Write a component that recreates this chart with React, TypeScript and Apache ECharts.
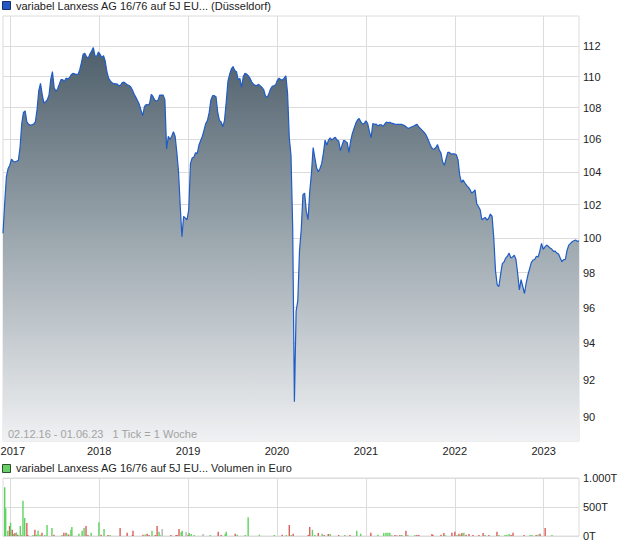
import React, { useEffect, useRef } from "react";
import * as echarts from "echarts";

// Weekly closing quotes (one tick = one week), first week 02.12.2016
const startYear = 2016;
const startMonth = 11;
const startDay = 2;
const priceValues = [
  100.3, 102.1, 103.7, 104.2, 104.4, 104.78, 104.65, 104.6, 104.65, 104.7,
  105.5, 107.0, 107.7, 107.8, 107.11, 106.95, 106.9, 106.92, 106.97, 107.1,
  107.9, 109.1, 109.56, 108.85, 108.3, 108.38, 108.5, 108.81, 109.8, 110.32,
  109.3, 109.05, 109.2, 109.5, 109.8, 109.8, 109.68, 109.9, 109.84, 109.93,
  110.12, 110.21, 110.18, 110.14, 110.14, 110.43, 110.9, 111.45, 111.52, 111.3,
  111.2, 111.47, 111.67, 111.9, 111.35, 111.33, 111.6, 111.45, 111.23, 111.37,
  111.0, 110.3, 109.89, 109.72, 109.6, 109.54, 109.53, 109.52, 109.4, 109.45,
  109.62, 109.64, 109.55, 109.47, 109.42, 109.33, 109.12, 108.86, 108.66, 108.45,
  108.2, 107.83, 107.5, 108.07, 108.2, 108.18, 108.25, 108.85, 108.72, 108.5,
  108.42, 108.5, 108.81, 108.81, 108.8, 108.5, 105.4, 106.2, 106.0, 106.2,
  106.48, 106.2, 105.2, 104.0, 101.9, 100.1, 101.3, 101.2, 101.1, 101.7,
  104.5, 104.85, 104.9, 105.17, 105.13, 105.65, 105.93, 106.2, 106.6, 107.0,
  107.2, 107.7, 108.5, 108.77, 108.77, 108.7, 107.7, 107.2, 107.1, 106.8,
  107.2, 108.4, 109.7, 110.15, 110.5, 110.65, 110.4, 110.32, 109.8, 109.88,
  109.3, 110.0, 110.21, 110.16, 110.05, 109.87, 109.65, 109.5, 109.43, 109.42,
  109.5, 109.4, 109.3, 109.15, 108.75, 108.65, 108.9, 109.2, 109.38, 109.41,
  109.48, 109.75, 109.9, 109.8, 109.78, 109.9, 110.05, 108.9, 106.1, 105.0,
  100.6, 90.82, 95.8, 96.4, 99.3, 100.5, 102.6, 102.7, 101.6, 101.1,
  102.8, 103.9, 105.5, 104.85, 104.25, 104.0, 104.2, 104.5, 105.13, 105.96,
  105.65, 105.96, 106.1, 105.96, 106.07, 106.13, 105.96, 105.9, 105.3, 105.65,
  105.95, 105.88, 105.8, 105.2, 105.9, 106.38, 106.69, 107.01, 107.22, 107.32,
  107.1, 106.96, 107.02, 107.17, 107.0, 106.5, 106.1, 107.0, 106.95, 106.96,
  106.85, 106.92, 106.92, 106.82, 106.97, 107.09, 107.05, 107.08, 107.02, 106.99,
  106.96, 106.95, 106.94, 106.94, 106.94, 106.9, 106.84, 106.75, 106.69, 106.75,
  106.8, 106.84, 106.9, 106.95, 106.78, 106.68, 106.57, 106.46, 106.32, 106.1,
  105.85, 105.58, 105.42, 105.4, 105.5, 105.68, 105.34, 105.15, 104.6, 104.4,
  104.8, 105.2, 105.2, 105.09, 105.11, 105.1, 105.05, 104.75, 103.8, 103.35,
  103.5, 103.33, 103.17, 103.06, 102.92, 102.7, 102.78, 102.9, 102.05, 101.89,
  101.7, 101.1, 101.18, 101.24, 101.08, 101.19, 101.44, 101.3, 100.0, 98.1,
  97.3, 97.2, 97.9, 98.52, 98.62, 98.84, 98.95, 99.13, 98.85, 98.9,
  99.01, 98.77, 97.96, 97.0, 97.6, 97.2, 96.8, 97.4, 97.86, 98.22,
  98.58, 98.73, 98.76, 98.95, 98.9, 99.25, 99.7, 99.35, 99.5, 99.6,
  99.53, 99.43, 99.37, 99.23, 99.25, 99.13, 99.08, 98.85, 98.63, 98.75,
  98.77, 99.3, 99.6, 99.7, 99.8, 99.86, 99.9, 99.82, 99.86,
];
const lastDate = [2023, 4, 26];

// Volume bars: day offset from 02.12.2016, volume in thousand euro, direction (1 up, -1 down, 0 flat)
const volumeDays = [
  7, 11, 20, 27, 31, 38, 44, 49, 55, 61, 71, 75, 82, 89, 98, 102, 123, 131, 137, 144,
  152, 160, 172, 181, 201, 209, 242, 250, 259, 262, 270, 279, 283, 312, 325, 333, 341, 349, 362, 394,
  403, 415, 431, 440, 481, 510, 532, 534, 575, 584, 592, 600, 612, 625, 633, 641, 645, 654, 690, 711,
  715, 723, 732, 736, 752, 761, 765, 773, 785, 822, 851, 884, 896, 913, 917, 954, 962, 995, 1007, 1053,
  1114, 1147, 1164, 1176, 1184, 1192, 1254, 1260, 1271, 1281, 1295, 1311, 1319, 1336, 1344, 1379, 1404, 1425, 1453, 1469,
  1511, 1540, 1564, 1573, 1581, 1589, 1597, 1610, 1618, 1630, 1638, 1655, 1663, 1692, 1700, 1708, 1762, 1766, 1799, 1811,
  1815, 1844, 1856, 1865, 1873, 1881, 1885, 1893, 1902, 1914, 1930, 1955, 1972, 1980, 1996, 2029, 2037, 2062, 2070, 2079,
  2087, 2095, 2140, 2165, 2173, 2190, 2198, 2206, 2227, 2255,
];
const volumeValues = [
  840, 478, 89, 172, 228, 106, 33, 50, 61, 22, 172, 15, 606, 311, 222, 10, 10, 106, 22, 89,
  22, 56, 10, 189, 139, 22, 10, 56, 56, 45, 28, 106, 156, 39, 89, 139, 172, 10, 56, 239,
  22, 122, 17, 17, 139, 56, 6, 89, 22, 28, 39, 17, 89, 6, 172, 72, 10, 122, 17, 6,
  6, 122, 67, 89, 67, 22, 50, 33, 17, 33, 6, 72, 6, 39, 72, 39, 22, 6, 322, 22,
  11, 22, 6, 189, 6, 39, 6, 156, 106, 17, 50, 39, 6, 33, 33, 17, 17, 6, 89, 39,
  56, 22, 50, 56, 56, 56, 17, 17, 17, 17, 17, 89, 17, 17, 17, 6, 33, 17, 22, 50,
  11, 56, 72, 17, 39, 28, 50, 56, 22, 33, 11, 17, 50, 17, 6, 72, 6, 17, 22, 33,
  17, 56, 17, 17, 17, 17, 28, 39, 139, 17,
];
const volumeDir = [
  1, 1, 1, -1, 1, -1, 1, -1, 1, -1, 1, 1, 1, 1, -1, -1, 1, -1, 1, 1,
  1, -1, 1, 1, 1, -1, 1, -1, -1, 1, -1, 1, 1, 1, 1, 1, -1, -1, 1, 1,
  -1, 1, -1, 1, -1, -1, -1, -1, -1, 1, -1, -1, 1, -1, -1, 1, 1, 0, -1, -1,
  -1, -1, 1, 1, 0, -1, 1, 1, 1, 0, 1, -1, -1, 1, 1, -1, 1, 1, 1, 1,
  1, -1, 1, -1, 1, -1, -1, -1, 1, 1, -1, 1, -1, -1, 1, -1, 1, -1, 1, 1,
  -1, 1, 1, 1, 1, 1, 0, -1, 0, -1, 1, -1, 1, 1, -1, -1, -1, -1, -1, -1,
  1, -1, -1, 1, -1, 1, -1, 1, -1, -1, -1, -1, -1, 1, -1, -1, 1, 1, 1, 1,
  -1, -1, -1, 1, 1, -1, 1, -1, -1, 1,
];

const priceTicks = [90, 92, 94, 96, 98, 100, 102, 104, 106, 108, 110, 112];
const priceMin = 88.74;
const priceMax = 114.0;
const yearTicks = [2017, 2018, 2019, 2020, 2021, 2022, 2023];
const volumeTicks = [0, 500, 1000];
const volumeTickLabels = ["0T", "500T", "1.000T"];

const titleText = "variabel Lanxess AG 16/76 auf 5J EU... (Düsseldorf)";
const volumeTitleText = "variabel Lanxess AG 16/76 auf 5J EU... Volumen in Euro";
const rangeText = "02.12.16 - 01.06.23   1 Tick = 1 Woche";

const FONT = "Liberation Sans, Arial, sans-serif";

export default function App() {
  const ref = useRef<HTMLDivElement>(null);

  useEffect(() => {
    document.body.style.margin = "0";
    if (!ref.current) return;
    const chart = echarts.init(ref.current, undefined, { renderer: "svg" });

    const t0 = new Date(startYear, startMonth, startDay).getTime();
    const tEnd = new Date(lastDate[0], lastDate[1], lastDate[2]).getTime();
    const weekDate = (i: number) => new Date(startYear, startMonth, startDay + 7 * i).getTime();
    const dayDate = (d: number) => new Date(startYear, startMonth, startDay + d).getTime();

    const priceData = priceValues.map((v, i) => [weekDate(i), Math.log(v)]);
    const yearValues = yearTicks.map((y) => new Date(y, 0, 1).getTime());
    const dirColor = (d: number) => (d > 0 ? "#5fd35f" : d < 0 ? "#dd5c5c" : "#b4b4b4");
    const volumeData = volumeDays.map((d, i) => ({
      value: [dayDate(d), volumeValues[i]],
      itemStyle: { color: dirColor(volumeDir[i]) },
    }));
    const logTicks = priceTicks.map((v) => Math.log(v));

    const gridLine = { lineStyle: { color: "#dcdcdc", width: 1 } };

    chart.setOption({
      animation: false,
      textStyle: { fontFamily: FONT },
      grid: [
        { left: 3, right: 41, top: 16, bottom: 105, show: true, borderColor: "#dcdcdc", borderWidth: 1, outerBoundsMode: "none" },
        { left: 3, right: 41, top: 478, bottom: 10, show: true, borderColor: "#dcdcdc", borderWidth: 1, outerBoundsMode: "none" },
      ],
      xAxis: [
        {
          type: "value",
          gridIndex: 0,
          min: t0,
          max: tEnd,
          axisLine: { show: false },
          axisTick: { show: false, customValues: yearValues },
          axisLabel: {
            customValues: yearValues,
            formatter: (v: number) => {
              const y = new Date(v).getFullYear();
              return y === yearTicks[0] ? `{first|${y}}` : String(y);
            },
            rich: {
              first: { padding: [0, 0, 0, 5], color: "#222", fontSize: 11, fontFamily: FONT },
            },
            color: "#222",
            fontSize: 11,
            fontFamily: FONT,
            margin: 4,
            showMinLabel: true,
            showMaxLabel: true,
          },
          splitLine: { show: true, ...gridLine },
        },
        {
          type: "value",
          gridIndex: 1,
          min: t0,
          max: tEnd,
          axisLine: { show: false },
          axisTick: { show: false, customValues: yearValues },
          axisLabel: { show: false, customValues: yearValues },
          splitLine: { show: true, ...gridLine },
        },
      ],
      yAxis: [
        {
          type: "value",
          gridIndex: 0,
          position: "right",
          min: Math.log(priceMin),
          max: Math.log(priceMax),
          axisLine: { show: false },
          axisTick: { show: false, customValues: logTicks },
          axisLabel: {
            customValues: logTicks,
            formatter: (v: number) => String(Math.round(Math.exp(v))),
            color: "#222",
            fontSize: 11,
            fontFamily: FONT,
            margin: 4,
          },
          splitLine: { show: true, ...gridLine },
        },
        {
          type: "value",
          gridIndex: 1,
          position: "right",
          min: volumeTicks[0],
          max: volumeTicks[2],
          interval: volumeTicks[1],
          axisLine: { show: false },
          axisTick: { show: false },
          axisLabel: {
            formatter: (v: number) => volumeTickLabels[volumeTicks.indexOf(v)] ?? "",
            color: "#222",
            fontSize: 11,
            fontFamily: FONT,
            margin: 4,
          },
          splitLine: { show: true, ...gridLine },
        },
      ],
      series: [
        {
          type: "line",
          xAxisIndex: 0,
          yAxisIndex: 0,
          data: priceData,
          showSymbol: false,
          symbol: "none",
          lineStyle: { color: "#1f5cc6", width: 1.2 },
          areaStyle: {
            origin: "start",
            opacity: 1,
            color: new echarts.graphic.LinearGradient(0, 0, 0, 1, [
              { offset: 0, color: "#4e5f6b" },
              { offset: 0.5, color: "#9ea9b0" },
              { offset: 1, color: "#f0f1f3" },
            ]),
          },
          z: 2,
        },
        {
          type: "bar",
          xAxisIndex: 1,
          yAxisIndex: 1,
          data: volumeData,
          barWidth: 1.4,
          barMinHeight: 1,
          z: 2,
        },
      ],
      graphic: [
        { type: "rect", left: 2, top: 1, shape: { width: 8, height: 8 }, style: { fill: "#2459c4", stroke: "#1b2f66", lineWidth: 1 } },
        { type: "text", x: 16, y: 6, style: { text: titleText, fill: "#222", font: `11px ${FONT}`, verticalAlign: "middle" } },
        { type: "rect", left: 2, top: 464, shape: { width: 8, height: 8 }, style: { fill: "#66d066", stroke: "#2f4f2f", lineWidth: 1 } },
        { type: "text", x: 16, y: 468, style: { text: volumeTitleText, fill: "#222", font: `11px ${FONT}`, verticalAlign: "middle" } },
        { type: "text", x: 8, y: 434, z: 10, style: { text: rangeText, fill: "#a3a3a3", font: `11px ${FONT}`, verticalAlign: "middle" } },
      ],
    });

    return () => chart.dispose();
  }, []);

  return <div ref={ref} style={{ width: 620, height: 546 }} />;
}
